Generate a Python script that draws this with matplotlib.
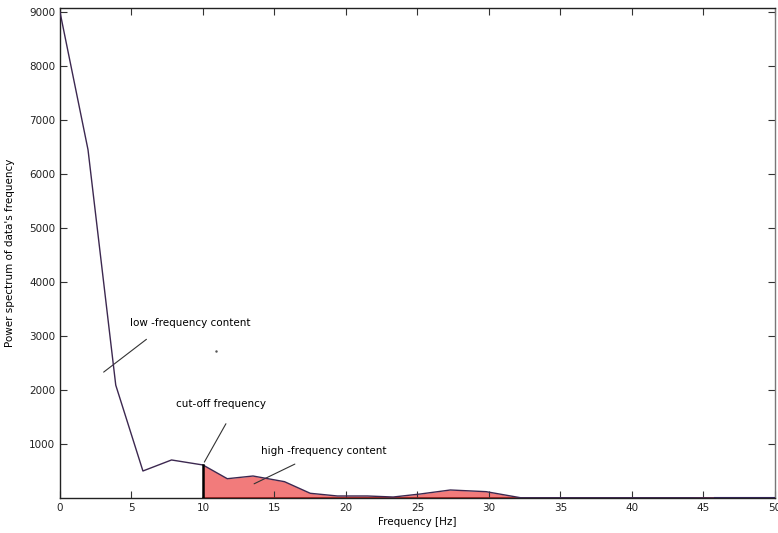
import matplotlib.pyplot as plt

# power spectrum samples (Hz, power)
freq = [0, 1.96, 3.9, 5.8, 7.8, 10, 11.7, 13.5, 15.7, 17.5, 19.4, 21.5, 23.3,
        25.2, 27.3, 29.8, 32.2, 34, 36, 38, 40, 42, 44, 45.8, 48, 50]
power = [9000, 6450, 2090, 500, 704, 611, 357, 407, 302, 87, 37, 37, 18,
         74, 148, 117, 5, 5, 5, 5, 5, 5, 5, 0, 0, 0]

cutoff = 10
fill_end = 45.8

xticks = [0, 5, 10, 15, 20, 25, 30, 35, 40, 45, 50]
yticks = [1000, 2000, 3000, 4000, 5000, 6000, 7000, 8000, 9000]

plt.rcParams['font.family'] = ['DejaVu Sans']
fig = plt.figure(figsize=(7.78, 5.33), dpi=100)
ax = fig.add_axes([0.0771, 0.0657, 0.9190, 0.9193])

# shaded high-frequency part
hf_x = [f for f in freq if cutoff <= f <= fill_end]
hf_y = [p for f, p in zip(freq, power) if cutoff <= f <= fill_end]
ax.fill_between(hf_x, hf_y, 0, color='#f27b7b', linewidth=0)
ax.plot([cutoff, fill_end], [0, 0], color='#8b1a1a', lw=1.2, zorder=3)
ax.plot([fill_end, 50], [0, 0], color='#1a1a60', lw=1.5, zorder=3)

ax.plot(freq, power, color='#3c2850', lw=1.0, zorder=4)
ax.plot([cutoff, cutoff], [0, power[freq.index(cutoff)]], color='black', lw=1.8, zorder=5)

ax.set_xlim(0, 50)
ax.set_ylim(0, 9075)
ax.set_xticks(xticks)
ax.set_yticks(yticks)
ax.tick_params(direction='in', length=5, labelsize=7.5, top=True, right=True,
               colors='#333333', labelcolor='#222222')
for s in ax.spines.values():
    s.set_linewidth(1.0)
    s.set_color('#222222')
ax.spines['right'].set_color('#777777')

ax.set_xlabel('Frequency [Hz]', fontsize=7.5, labelpad=3)
ax.set_ylabel("Power spectrum of data's frequency", fontsize=7.5, labelpad=10)

# annotations
ax.text(130, 207, 'low -frequency content', transform=None, fontsize=7.5)
ax.text(176, 126, 'cut-off frequency', transform=None, fontsize=7.5)
ax.text(261, 79, 'high -frequency content', transform=None, fontsize=7.5)
ax.annotate('', xy=(2.9, 2300), xytext=(6.2, 2970),
            arrowprops=dict(arrowstyle='-', color='#333333', lw=0.8))
ax.annotate('', xy=(10, 620), xytext=(11.7, 1420),
            arrowprops=dict(arrowstyle='-', color='#333333', lw=0.8))
ax.annotate('', xy=(13.4, 240), xytext=(16.6, 650),
            arrowprops=dict(arrowstyle='-', color='#333333', lw=0.8))
ax.plot([10.9], [2720], marker='.', ms=1.5, color='#555555')

fig.savefig('out.png', dpi=100)
